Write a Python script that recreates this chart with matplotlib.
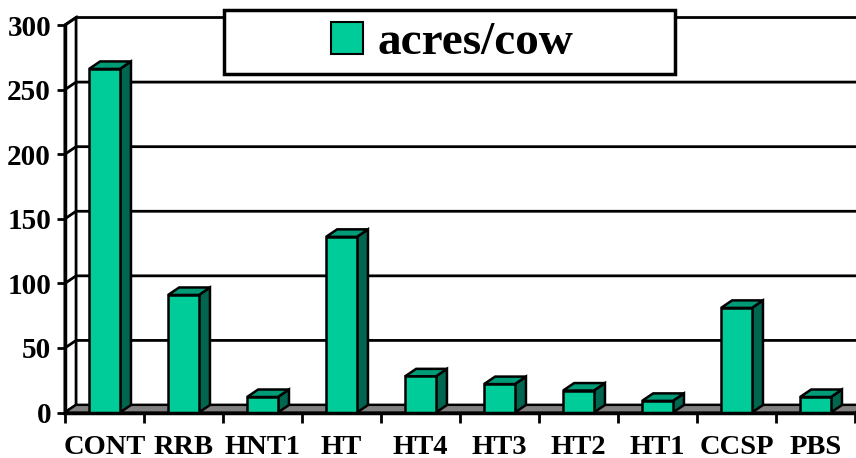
import matplotlib
matplotlib.use("Agg")
import matplotlib.pyplot as plt
from matplotlib.patches import Polygon, Rectangle, Patch

plt.rcParams["font.family"] = "Liberation Serif"
plt.rcParams["font.weight"] = "bold"

# ---- data ----
categories = ["CONT", "RRB", "HNT1", "HT", "HT4", "HT3", "HT2", "HT1", "CCSP", "PBS"]
acres_per_cow = [266, 91, 12, 136, 28, 22, 17, 9, 81, 12]
y_ticks = [0, 50, 100, 150, 200, 250, 300]
series_name = "acres/cow"

# ---- style ----
FRONT = "#00CC99"
TOP = "#009C78"
SIDE = "#006650"
FLOOR = "#808080"
DX = 0.14     # depth offset in category units
DY = 5.8      # depth offset in value units
BAR_W = 0.39
YMAX = 300
n = len(categories)

W, H = 856, 458
fig = plt.figure(figsize=(W / 100, H / 100), dpi=100)
ax = fig.add_axes([65 / W, (H - 412.5) / H, 790 / W, (412.5 - 25) / H])
ax.set_xlim(0, n)
ax.set_ylim(0, YMAX)

# left side wall
ax.add_patch(Polygon([(0, 0), (DX, DY), (DX, YMAX + DY), (0, YMAX)],
                     closed=True, fc="white", ec="black", lw=2, clip_on=False, zorder=1))

# gridlines on side wall and back wall
for v in y_ticks:
    ax.plot([0, DX, n + DX], [v, v + DY, v + DY], color="black", lw=2,
            clip_on=False, zorder=2, solid_capstyle="butt")

# floor
ax.add_patch(Polygon([(0, 0), (n, 0), (n + DX, DY), (DX, DY)],
                     closed=True, fc=FLOOR, ec="black", lw=1.5, clip_on=False, zorder=3))

# bars
for i, v in enumerate(acres_per_cow):
    x0 = i + 0.5 - BAR_W / 2
    x1 = x0 + BAR_W
    ax.add_patch(Polygon([(x1, 0), (x1 + DX, DY), (x1 + DX, v + DY), (x1, v)],
                         closed=True, fc=SIDE, ec="black", lw=1.8, clip_on=False, zorder=4))
    ax.add_patch(Polygon([(x0, v), (x0 + DX, v + DY), (x1 + DX, v + DY), (x1, v)],
                         closed=True, fc=TOP, ec="black", lw=1.8, clip_on=False, zorder=4))
    ax.add_patch(Rectangle((x0, 0), BAR_W, v, fc=FRONT, ec="black", lw=1.8,
                           clip_on=False, zorder=5))

# axes
for s in ["top", "right"]:
    ax.spines[s].set_visible(False)
for s in ["left", "bottom"]:
    ax.spines[s].set_linewidth(2.5)
    ax.spines[s].set_zorder(6)

ax.set_yticks(y_ticks)
ax.tick_params(axis="y", direction="out", length=6, width=2, labelsize=21, pad=4)
ax.set_xticks(range(n + 1))
ax.set_xticklabels([])
ax.tick_params(axis="x", which="major", direction="out", length=7, width=2)
ax.set_xticks([i + 0.5 for i in range(n)], minor=True)
ax.set_xticklabels(categories, minor=True, fontsize=20.5, fontweight="bold")
ax.tick_params(axis="x", which="minor", length=0, pad=16)
for lab in ax.get_yticklabels():
    lab.set_fontweight("bold")

# legend box
fig.patches.append(Rectangle((224 / W, 1 - 74 / H), (675 - 224) / W, 64 / H,
                             transform=fig.transFigure, fc="white", ec="black",
                             lw=2.5, zorder=10))
leg = fig.legend(handles=[Patch(fc=FRONT, ec="black", lw=1.5)], labels=[series_name],
                 loc="center", bbox_to_anchor=(452 / W, 1 - 43 / H),
                 bbox_transform=fig.transFigure, frameon=False,
                 prop={"size": 34, "weight": "bold"},
                 handlelength=0.68, handleheight=0.68, handletextpad=0.3)
leg.set_zorder(11)

fig.savefig("out.png", dpi=100)
